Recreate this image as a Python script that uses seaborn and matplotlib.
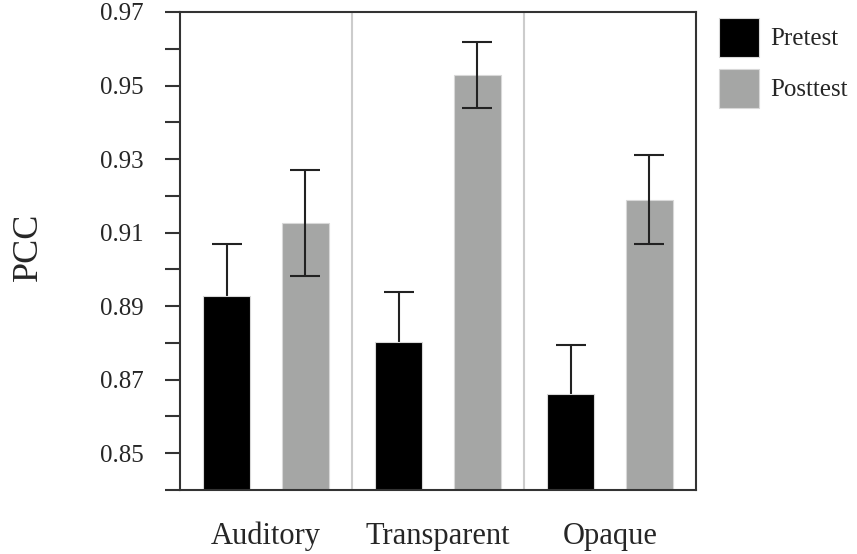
import matplotlib
matplotlib.use("Agg")
import matplotlib.pyplot as plt
import seaborn as sns
import pandas as pd
import numpy as np
from matplotlib.patches import Patch

categories = ["Auditory", "Transparent", "Opaque"]
conditions = ["Pretest", "Posttest"]
pretest_mean = [0.8928, 0.8803, 0.8661]
pretest_err = [0.0140, 0.0135, 0.0134]
posttest_mean = [0.9126, 0.9529, 0.9190]
posttest_err = [0.0144, 0.0090, 0.0122]
ytick_labels = ["0.85", "0.87", "0.89", "0.91", "0.93", "0.95", "0.97"]

colors = {"Pretest": "#000000", "Posttest": "#a5a6a5"}

df = pd.DataFrame({
    "category": categories * 2,
    "condition": ["Pretest"] * 3 + ["Posttest"] * 3,
    "value": pretest_mean + posttest_mean,
    "err": pretest_err + posttest_err,
})

sns.set_style("white")
plt.rcParams["font.family"] = ["Liberation Serif", "DejaVu Serif"]

fig = plt.figure(figsize=(8.57, 5.54), dpi=100)
ax = fig.add_axes([180 / 857, 64 / 554, 516 / 857, 478 / 554])

sns.barplot(data=df, x="category", y="value", hue="condition",
            order=categories, hue_order=conditions, palette=colors,
            width=0.91, gap=0.4, errorbar=None, ax=ax, legend=False,
            edgecolor="#d8d8d8", linewidth=0.8, zorder=2)

# error bars at bar centers (pretest ones sit behind the black bars)
for container, cond in zip(ax.containers, conditions):
    sub = df[df["condition"] == cond].set_index("category").loc[categories]
    xs = [p.get_x() + p.get_width() / 2 for p in container.patches]
    ax.errorbar(xs, sub["value"].values, yerr=sub["err"].values, fmt="none",
                ecolor="#222222", elinewidth=1.5, capsize=11, capthick=1.5,
                zorder=1.5 if cond == "Pretest" else 3)

# group separators
for xsep in [0.5, 1.5]:
    ax.axvline(xsep, color="#cccccc", lw=1.5, zorder=1)

ax.set_xlim(-0.5, 2.5)
ax.set_ylim(0.84, 0.97)
ax.set_yticks(np.arange(0.84, 0.9705, 0.01))
labels = []
for t in ax.get_yticks():
    s = f"{t:.2f}"
    labels.append(s if s in ytick_labels else "")
ax.set_yticklabels(labels)
ax.tick_params(axis="y", direction="out", length=11, width=1.5, color="#333333",
               pad=15, labelsize=18, left=True)
ax.tick_params(axis="x", length=0, pad=23, labelsize=22)
ax.set_xlabel("")
ax.set_ylabel("PCC", fontsize=26)
ax.yaxis.set_label_coords(-0.262, 0.509)

for side in ["left", "right", "top", "bottom"]:
    ax.spines[side].set_visible(True)
    ax.spines[side].set_color("#333333")
    ax.spines[side].set_linewidth(1.5)

handles = [Patch(facecolor=colors[c], edgecolor="#d8d8d8", linewidth=0.8) for c in conditions]
fig.legend(handles, conditions, loc="upper left", bbox_to_anchor=(719 / 857, 1 - 18 / 554),
           frameon=False, fontsize=18, handlelength=1.6, handleheight=2.0,
           handletextpad=0.45, labelspacing=0.5, borderpad=0, borderaxespad=0)

fig.savefig("out.png", dpi=100)
